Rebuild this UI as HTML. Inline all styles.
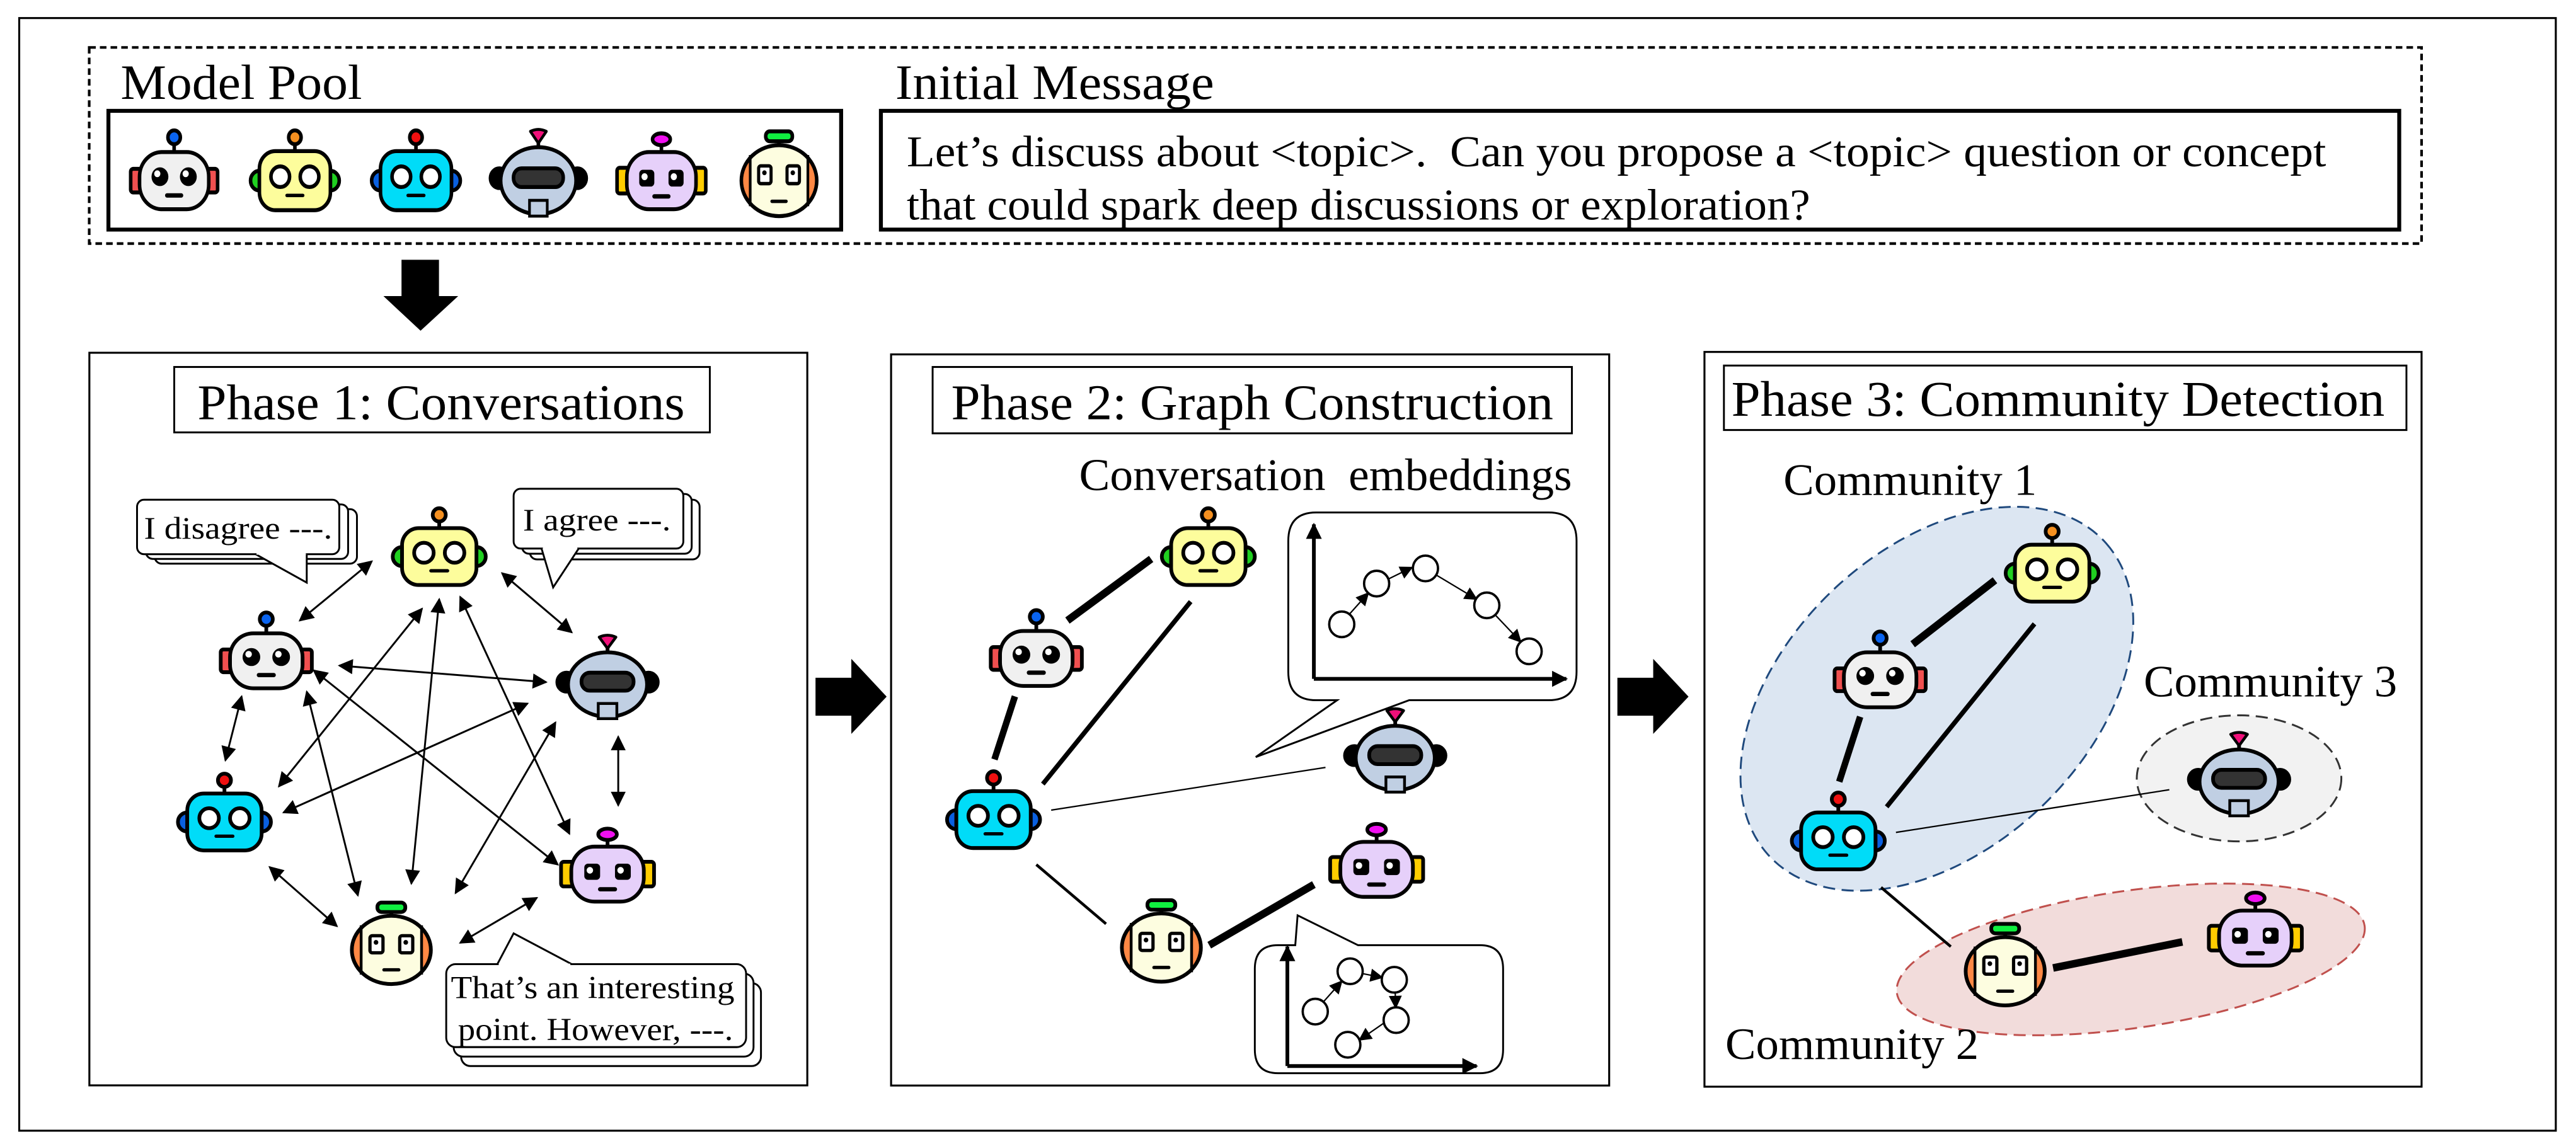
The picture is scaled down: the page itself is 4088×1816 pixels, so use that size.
<!DOCTYPE html>
<html><head><meta charset="utf-8"><style>
html,body{margin:0;padding:0;background:#fff;}
svg{display:block;}
text{font-family:"Liberation Serif","Times New Roman",serif;fill:#000;}
</style></head><body>
<svg width="4088" height="1816" viewBox="0 0 1568 696.6" preserveAspectRatio="none" xmlns="http://www.w3.org/2000/svg" font-family="Liberation Serif, Times New Roman, serif">
<defs>
<marker id="ah" viewBox="0 0 10 10" refX="9" refY="5" markerWidth="40" markerHeight="32" markerUnits="userSpaceOnUse" orient="auto-start-reverse"><path d="M0,0 L10,5 L0,10 z" fill="#000"/></marker>
<marker id="ah2" viewBox="0 0 10 10" refX="9" refY="5" markerWidth="34" markerHeight="28" markerUnits="userSpaceOnUse" orient="auto"><path d="M0,0 L10,5 L0,10 z" fill="#000"/></marker>
<marker id="ah3" viewBox="0 0 10 10" refX="9" refY="5" markerWidth="40" markerHeight="34" markerUnits="userSpaceOnUse" orient="auto"><path d="M0,0 L10,5 L0,10 z" fill="#000"/></marker>
<clipPath id="oclip"><ellipse cx="0" cy="0" rx="85" ry="72"/></clipPath>

<g id="rWhite" stroke="#000" stroke-width="8">
 <line x1="0" y1="-75" x2="0" y2="-58"/>
 <circle cx="0" cy="-88" r="14" fill="#0a64f0"/>
 <rect x="-98" y="-24" width="26" height="48" rx="6" fill="#f05050"/>
 <rect x="72" y="-24" width="26" height="48" rx="6" fill="#f05050"/>
 <rect x="-78" y="-58" width="156" height="116" rx="50" fill="#f0f0f0"/>
 <circle cx="-32" cy="-8" r="19" fill="#000" stroke="none"/>
 <circle cx="32" cy="-8" r="19" fill="#000" stroke="none"/>
 <circle cx="-38" cy="-14" r="7" fill="#fff" stroke="none"/>
 <circle cx="26" cy="-14" r="7" fill="#fff" stroke="none"/>
 <line x1="-16" y1="30" x2="16" y2="30" stroke-linecap="round" stroke-width="9"/>
</g>
<g id="rYellow" stroke="#000" stroke-width="8">
 <line x1="0" y1="-75" x2="0" y2="-58"/>
 <circle cx="0" cy="-88" r="14" fill="#f59020"/>
 <path d="M-80,-20 A20,20 0 0 0 -80,20 Z" fill="#20d020"/>
 <path d="M80,-20 A20,20 0 0 1 80,20 Z" fill="#20d020"/>
 <rect x="-80" y="-60" width="160" height="120" rx="36" fill="#fdfd9c"/>
 <circle cx="-33" cy="-8" r="21" fill="#fff"/>
 <circle cx="33" cy="-8" r="21" fill="#fff"/>
 <line x1="-18" y1="30" x2="18" y2="30" stroke-linecap="round" stroke-width="7"/>
</g>
<g id="rCyan" stroke="#000" stroke-width="8">
 <line x1="0" y1="-75" x2="0" y2="-58"/>
 <circle cx="0" cy="-88" r="14" fill="#f01010"/>
 <path d="M-80,-20 A20,20 0 0 0 -80,20 Z" fill="#0a60e0"/>
 <path d="M80,-20 A20,20 0 0 1 80,20 Z" fill="#0a60e0"/>
 <rect x="-80" y="-60" width="160" height="120" rx="36" fill="#00dcf8"/>
 <circle cx="-33" cy="-8" r="21" fill="#fff"/>
 <circle cx="33" cy="-8" r="21" fill="#fff"/>
 <line x1="-18" y1="30" x2="18" y2="30" stroke-linecap="round" stroke-width="7"/>
</g>
<g id="rGray" stroke="#000" stroke-width="8">
 <line x1="0" y1="-78" x2="0" y2="-62"/>
 <path d="M-18,-100 Q0,-108 18,-100 L0,-76 Z" fill="#f0107a" stroke-width="6" stroke-linejoin="round"/>
 <circle cx="-88" cy="-5" r="20" fill="#000"/>
 <circle cx="88" cy="-5" r="20" fill="#000"/>
 <ellipse cx="0" cy="0" rx="85" ry="68" fill="#c0cfe3"/>
 <rect x="-56" y="-25" width="112" height="38" rx="18" fill="#333"/>
 <rect x="-20" y="40" width="40" height="32" fill="#c0cfe3" stroke-width="6"/>
</g>
<g id="rPurple" stroke="#000" stroke-width="8">
 <line x1="0" y1="-72" x2="0" y2="-58"/>
 <ellipse cx="0" cy="-84" rx="20" ry="12" fill="#f010f0"/>
 <rect x="-100" y="-26" width="28" height="52" rx="6" fill="#ffcc00"/>
 <rect x="72" y="-26" width="28" height="52" rx="6" fill="#ffcc00"/>
 <rect x="-78" y="-58" width="156" height="116" rx="50" fill="#e6d0fa"/>
 <rect x="-50" y="-22" width="34" height="34" rx="8" fill="#000" stroke="none"/>
 <rect x="16" y="-22" width="34" height="34" rx="8" fill="#000" stroke="none"/>
 <circle cx="-38" cy="-8" r="7" fill="#fff" stroke="none"/>
 <circle cx="28" cy="-8" r="7" fill="#fff" stroke="none"/>
 <line x1="-16" y1="32" x2="16" y2="32" stroke-linecap="round" stroke-width="9"/>
</g>
<g id="rOrange" stroke="#000" stroke-width="8">
 <line x1="0" y1="-78" x2="0" y2="-66"/>
 <rect x="-30" y="-100" width="60" height="20" rx="9" fill="#10f040"/>
 <ellipse cx="0" cy="0" rx="85" ry="72" fill="#ff8844" stroke="none"/>
 <rect x="-65" y="-80" width="130" height="160" fill="#fdfde0" clip-path="url(#oclip)" stroke="none"/>
 <line x1="-65" y1="-52" x2="-65" y2="52" stroke-width="6"/>
 <line x1="65" y1="-52" x2="65" y2="52" stroke-width="6"/>
 <ellipse cx="0" cy="0" rx="85" ry="72" fill="none"/>
 <rect x="-46" y="-30" width="28" height="36" rx="5" fill="#fff" stroke-width="7"/>
 <rect x="18" y="-30" width="28" height="36" rx="5" fill="#fff" stroke-width="7"/>
 <circle cx="-33" cy="-16" r="5" fill="#000" stroke="none"/>
 <circle cx="31" cy="-16" r="5" fill="#000" stroke="none"/>
 <line x1="-16" y1="42" x2="16" y2="42" stroke-linecap="round" stroke-width="7"/>
</g>
</defs>

<rect x="0" y="0" width="1568" height="696.6" fill="#fff"/>
<rect x="11.7" y="11" width="1544" height="677.5" fill="none" stroke="#000" stroke-width="1.2"/>
<rect x="54.3" y="28.9" width="1419.7" height="119.4" fill="none" stroke="#000" stroke-width="1.6" stroke-dasharray="4,2.5"/>
<text x="73.4" y="60.2" font-size="30" textLength="147" lengthAdjust="spacingAndGlyphs">Model Pool</text>
<rect x="66" y="67.5" width="446" height="72.3" fill="none" stroke="#000" stroke-width="2.4"/>
<g transform="translate(106,110) scale(0.27,0.3)"><use href="#rWhite"/></g>
<g transform="translate(179.5,110) scale(0.27,0.3)"><use href="#rYellow"/></g>
<g transform="translate(253.2,110) scale(0.27,0.3)"><use href="#rCyan"/></g>
<g transform="translate(327.7,110) scale(0.27,0.3)"><use href="#rGray"/></g>
<g transform="translate(402.6,110) scale(0.27,0.3)"><use href="#rPurple"/></g>
<g transform="translate(474.2,110) scale(0.27,0.3)"><use href="#rOrange"/></g>

<text x="545" y="60.2" font-size="30" textLength="194" lengthAdjust="spacingAndGlyphs">Initial Message</text>
<rect x="536.2" y="67.5" width="924.2" height="72.3" fill="none" stroke="#000" stroke-width="2.4"/>
<text x="551.9" y="101.3" font-size="27" textLength="864" lengthAdjust="spacingAndGlyphs">Let’s discuss about &lt;topic&gt;.&#160; Can you propose a &lt;topic&gt; question or concept</text>
<text x="551.9" y="133.6" font-size="27" textLength="550" lengthAdjust="spacingAndGlyphs">that could spark deep discussions or exploration?</text>

<path d="M244.4,158.2 L267.2,158.2 L267.2,180.3 L278.9,180.3 L256,201.4 L233.4,180.3 L244.4,180.3 Z" fill="#000"/>
<path d="M496.4,412.7 L518.2,412.7 L518.2,401.2 L539.7,424.2 L518.2,446.9 L518.2,435.8 L496.4,435.8 Z" fill="#000"/>
<path d="M984.5,412.7 L1006.3,412.7 L1006.3,401.2 L1027.8,424.2 L1006.3,446.9 L1006.3,435.8 L984.5,435.8 Z" fill="#000"/>

<rect x="54.4" y="214.8" width="437" height="446.1" fill="none" stroke="#000" stroke-width="1.2"/>
<rect x="542.4" y="215.8" width="437.1" height="445.2" fill="none" stroke="#000" stroke-width="1.2"/>
<rect x="1037.5" y="214.3" width="436.5" height="447.4" fill="none" stroke="#000" stroke-width="1.2"/>

<g transform="translate(53.7,214.8) scale(0.283,0.2886)">
 <rect x="185" y="30" width="1152" height="138" fill="#fff" stroke="#000" stroke-width="4"/>
 <text x="235" y="140" font-size="106" textLength="1048" lengthAdjust="spacingAndGlyphs">Phase 1: Conversations</text>
 <g stroke="#000" stroke-width="4" marker-start="url(#ah)" marker-end="url(#ah)">
  <line x1="455" y1="565" x2="610" y2="440"/>
  <line x1="890" y1="465" x2="1040" y2="590"/>
  <line x1="540" y1="660" x2="985" y2="695"/>
  <line x1="330" y1="725" x2="295" y2="860"/>
  <line x1="1140" y1="810" x2="1140" y2="955"/>
  <line x1="718" y1="540" x2="410" y2="915"/>
  <line x1="755" y1="520" x2="695" y2="1120"/>
  <line x1="800" y1="515" x2="1035" y2="1015"/>
  <line x1="485" y1="670" x2="1010" y2="1080"/>
  <line x1="470" y1="715" x2="580" y2="1145"/>
  <line x1="945" y1="740" x2="420" y2="970"/>
  <line x1="1005" y1="780" x2="790" y2="1140"/>
  <line x1="390" y1="1085" x2="535" y2="1210"/>
  <line x1="965" y1="1150" x2="800" y2="1245"/>
 </g>
 <g fill="#fff" stroke="#000" stroke-width="4">
  <rect x="143" y="330" width="435" height="115" rx="15"/>
  <rect x="124" y="320" width="435" height="115" rx="15"/>
  <rect x="105" y="310" width="435" height="115" rx="15"/>
  <path d="M360,425 L470,485 L470,425" />
  <path d="M362,423 L468,423" stroke="#fff" stroke-width="6"/>
  <rect x="950" y="310" width="365" height="126" rx="15"/>
  <rect x="933" y="298" width="365" height="126" rx="15"/>
  <rect x="915" y="287" width="365" height="126" rx="15"/>
  <path d="M975,413 L1000,495 L1055,413"/>
  <path d="M978,411 L1052,411" stroke="#fff" stroke-width="6"/>
  <rect x="802" y="1330" width="645" height="175" rx="20"/>
  <rect x="786" y="1310" width="645" height="175" rx="20"/>
  <rect x="770" y="1290" width="645" height="175" rx="20"/>
  <path d="M880,1290 L915,1225 L1040,1290"/>
  <path d="M883,1292 L1037,1292" stroke="#fff" stroke-width="6"/>
 </g>
 <text x="120" y="392" font-size="66" textLength="405" lengthAdjust="spacingAndGlyphs">I disagree ---.</text>
 <text x="935" y="375" font-size="66" textLength="318" lengthAdjust="spacingAndGlyphs">I agree ---.</text>
 <text x="780" y="1362" font-size="68" textLength="610" lengthAdjust="spacingAndGlyphs">That’s an interesting</text>
 <text x="795" y="1450" font-size="68" textLength="592" lengthAdjust="spacingAndGlyphs">point. However, ---.</text>
 <use href="#rYellow" x="755" y="430"/>
 <use href="#rWhite" x="383" y="650"/>
 <use href="#rGray" x="1117" y="700"/>
 <use href="#rCyan" x="293" y="990"/>
 <use href="#rPurple" x="1117" y="1100"/>
 <use href="#rOrange" x="652" y="1260"/>
</g>

<g transform="translate(540.8,214.8) scale(0.283,0.2886)">
 <rect x="95" y="30" width="1375" height="140" fill="#fff" stroke="#000" stroke-width="4"/>
 <text x="135" y="140" font-size="106" textLength="1295" lengthAdjust="spacingAndGlyphs">Phase 2: Graph Construction</text>
 <text x="410" y="290" font-size="96" textLength="1060" lengthAdjust="spacingAndGlyphs">Conversation&#160; embeddings</text>
 <g stroke="#000">
  <line x1="385" y1="565" x2="565" y2="435" stroke-width="16"/>
  <line x1="272" y1="725" x2="228" y2="858" stroke-width="14"/>
  <line x1="332" y1="910" x2="650" y2="525" stroke-width="10"/>
  <line x1="350" y1="965" x2="940" y2="875" stroke-width="3"/>
  <line x1="318" y1="1080" x2="468" y2="1205" stroke-width="6"/>
  <line x1="690" y1="1250" x2="915" y2="1122" stroke-width="16"/>
 </g>
 <path d="M920,337 L1420,337 Q1480,337 1480,397 L1480,673 Q1480,733 1420,733 L1120,733 L790,853 L965,733 L920,733 Q860,733 860,673 L860,397 Q860,337 920,337 Z" fill="#fff" stroke="#000" stroke-width="4"/>
 <line x1="915" y1="688" x2="915" y2="362" stroke="#000" stroke-width="8" marker-end="url(#ah3)"/>
 <line x1="915" y1="688" x2="1458" y2="688" stroke="#000" stroke-width="8" marker-end="url(#ah3)"/>
 <g stroke="#000" stroke-width="3" marker-end="url(#ah2)">
  <line x1="992" y1="551" x2="1032" y2="507"/>
  <line x1="1076" y1="477" x2="1126" y2="453"/>
  <line x1="1180" y1="470" x2="1265" y2="520"/>
  <line x1="1305" y1="553" x2="1360" y2="610"/>
 </g>
 <g fill="#fff" stroke="#000" stroke-width="5">
  <circle cx="975" cy="573" r="27"/><circle cx="1050" cy="487" r="27"/><circle cx="1155" cy="455" r="27"/><circle cx="1287" cy="533" r="27"/><circle cx="1378" cy="630" r="27"/>
 </g>
 <path d="M838,1250 L875,1250 L880,1187 L1010,1250 L1272,1250 Q1322,1250 1322,1300 L1322,1470 Q1322,1520 1272,1520 L838,1520 Q788,1520 788,1470 L788,1300 Q788,1250 838,1250 Z" fill="#fff" stroke="#000" stroke-width="4"/>
 <line x1="858" y1="1505" x2="858" y2="1253" stroke="#000" stroke-width="8" marker-end="url(#ah3)"/>
 <line x1="858" y1="1505" x2="1265" y2="1505" stroke="#000" stroke-width="8" marker-end="url(#ah3)"/>
 <g stroke="#000" stroke-width="3" marker-end="url(#ah2)">
  <line x1="936" y1="1369" x2="975" y2="1326"/>
  <line x1="1020" y1="1310" x2="1062" y2="1318"/>
  <line x1="1090" y1="1350" x2="1091" y2="1382"/>
  <line x1="1066" y1="1414" x2="1013" y2="1450"/>
 </g>
 <g fill="#fff" stroke="#000" stroke-width="5">
  <circle cx="918" cy="1390" r="27"/><circle cx="993" cy="1305" r="27"/><circle cx="1088" cy="1323" r="27"/><circle cx="1092" cy="1408" r="27"/><circle cx="988" cy="1460" r="27"/>
 </g>
 <use href="#rYellow" x="688" y="430"/>
 <use href="#rWhite" x="318" y="645"/>
 <use href="#rCyan" x="226" y="985"/>
 <use href="#rGray" x="1090" y="855"/>
 <use href="#rPurple" x="1050" y="1090"/>
 <use href="#rOrange" x="587" y="1255"/>
</g>

<g transform="translate(1031.8,214.8) scale(0.283,0.2886)">
 <rect x="62" y="27" width="1468" height="136" fill="#fff" stroke="#000" stroke-width="4"/>
 <text x="78" y="133" font-size="106" textLength="1405" lengthAdjust="spacingAndGlyphs">Phase 3: Community Detection</text>
 <ellipse cx="520" cy="730" rx="490" ry="320" transform="rotate(-42 520 730)" fill="#dce6f2" stroke="#1f497d" stroke-width="4" stroke-dasharray="26,14"/>
 <ellipse cx="1170" cy="898" rx="220" ry="133" fill="#f2f2f2" stroke="#333" stroke-width="4" stroke-dasharray="26,14"/>
 <ellipse cx="937" cy="1280" rx="508" ry="145" transform="rotate(-8 937 1280)" fill="#f2dcdb" stroke="#c0504d" stroke-width="4" stroke-dasharray="26,14"/>
 <text x="190" y="300" font-size="94" textLength="545" lengthAdjust="spacingAndGlyphs">Community 1</text>
 <text x="965" y="725" font-size="94" textLength="545" lengthAdjust="spacingAndGlyphs">Community 3</text>
 <text x="65" y="1490" font-size="94" textLength="545" lengthAdjust="spacingAndGlyphs">Community 2</text>
 <g stroke="#000">
  <line x1="468" y1="615" x2="645" y2="480" stroke-width="16"/>
  <line x1="355" y1="768" x2="310" y2="905" stroke-width="14"/>
  <line x1="412" y1="958" x2="730" y2="572" stroke-width="10"/>
  <line x1="432" y1="1012" x2="1020" y2="922" stroke-width="3"/>
  <line x1="400" y1="1128" x2="550" y2="1253" stroke-width="6"/>
  <line x1="770" y1="1298" x2="1048" y2="1243" stroke-width="16"/>
 </g>
 <use href="#rYellow" x="768" y="465"/>
 <use href="#rWhite" x="398" y="690"/>
 <use href="#rCyan" x="308" y="1030"/>
 <use href="#rGray" x="1170" y="905"/>
 <use href="#rPurple" x="1205" y="1235"/>
 <use href="#rOrange" x="667" y="1305"/>
</g>
</svg>
</body></html>
